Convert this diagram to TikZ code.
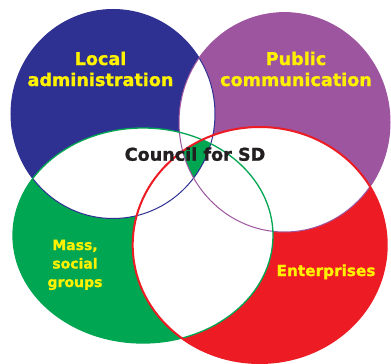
\documentclass[tikz,border=0pt]{standalone}
\usepackage{fontspec}
\setmainfont{DejaVu Sans}
\newfontfamily\heavyfont[FakeBold=1.2]{DejaVu Sans Bold}
\definecolor{cblue}{HTML}{2E3192}
\definecolor{cpurple}{HTML}{9E559F}
\definecolor{cgreen}{HTML}{00A651}
\definecolor{cred}{HTML}{ED1C24}
\definecolor{cyel}{HTML}{FFF200}
\definecolor{ctext}{HTML}{231F20}
\def\eBlue{(113,114) ellipse [x radius=102, y radius=104.5]}
\def\ePurple{(284.5,122.3) ellipse [x radius=105.5, y radius=109.7]}
\def\eGreen{(143,235.5) ellipse [x radius=130, y radius=107.5]}
\def\eRed{(259.7,245) ellipse [x radius=127, y radius=118]}
\tikzset{
  biglabel/.style={text=cyel, font=\fontsize{17.6}{21}\selectfont\heavyfont, anchor=base, inner sep=0pt},
  midlabel/.style={text=cyel, font=\fontsize{15.3}{18}\selectfont\heavyfont, anchor=base, inner sep=0pt},
  smalllabel/.style={text=cyel, font=\fontsize{14}{17}\selectfont\heavyfont, anchor=base, inner sep=0pt},
  darklabel/.style={text=ctext, font=\fontsize{17.6}{21}\selectfont\heavyfont, anchor=base, inner sep=0pt}
}
\begin{document}
\begin{tikzpicture}[x=1pt,y=-1pt]
\useasboundingbox[fill=white] (0,0) rectangle (391,364);
% fills
\fill[cblue] \eBlue;
\fill[cpurple] \ePurple;
\fill[cgreen] \eGreen;
\fill[cred] \eRed;
% pairwise overlaps white
\begin{scope}\clip \eBlue; \fill[white] \ePurple; \fill[white] \eGreen; \fill[white] \eRed;\end{scope}
\begin{scope}\clip \ePurple; \fill[white] \eGreen; \fill[white] \eRed;\end{scope}
\begin{scope}\clip \eGreen; \fill[white] \eRed;\end{scope}
% fourfold overlap green
\begin{scope}\clip \eBlue; \clip \ePurple; \clip \eGreen; \fill[cgreen] \eRed;\end{scope}
% outlines
\draw[cblue, line width=1pt] \eBlue;
\draw[cpurple, line width=1pt] \ePurple;
\draw[cgreen, line width=1.3pt] \eGreen;
\draw[cred, line width=2pt] \eRed;
% labels
\node[biglabel] (local1) at (100.5,65) {Local};
\node[biglabel] (local2) at (100.5,86) {administration};
\node[biglabel] (pub1) at (296,65) {Public};
\node[biglabel] (pub2) at (296,86) {communication};
\node[darklabel] (council) at (195,160.7) {Council for SD};
\node[smalllabel] (mass1) at (75,250) {Mass,};
\node[smalllabel] (mass2) at (75,268.5) {social};
\node[smalllabel] (mass3) at (75,287) {groups};
\node[midlabel] (ent) at (326,276) {Enterprises};
\end{tikzpicture}
\end{document}
